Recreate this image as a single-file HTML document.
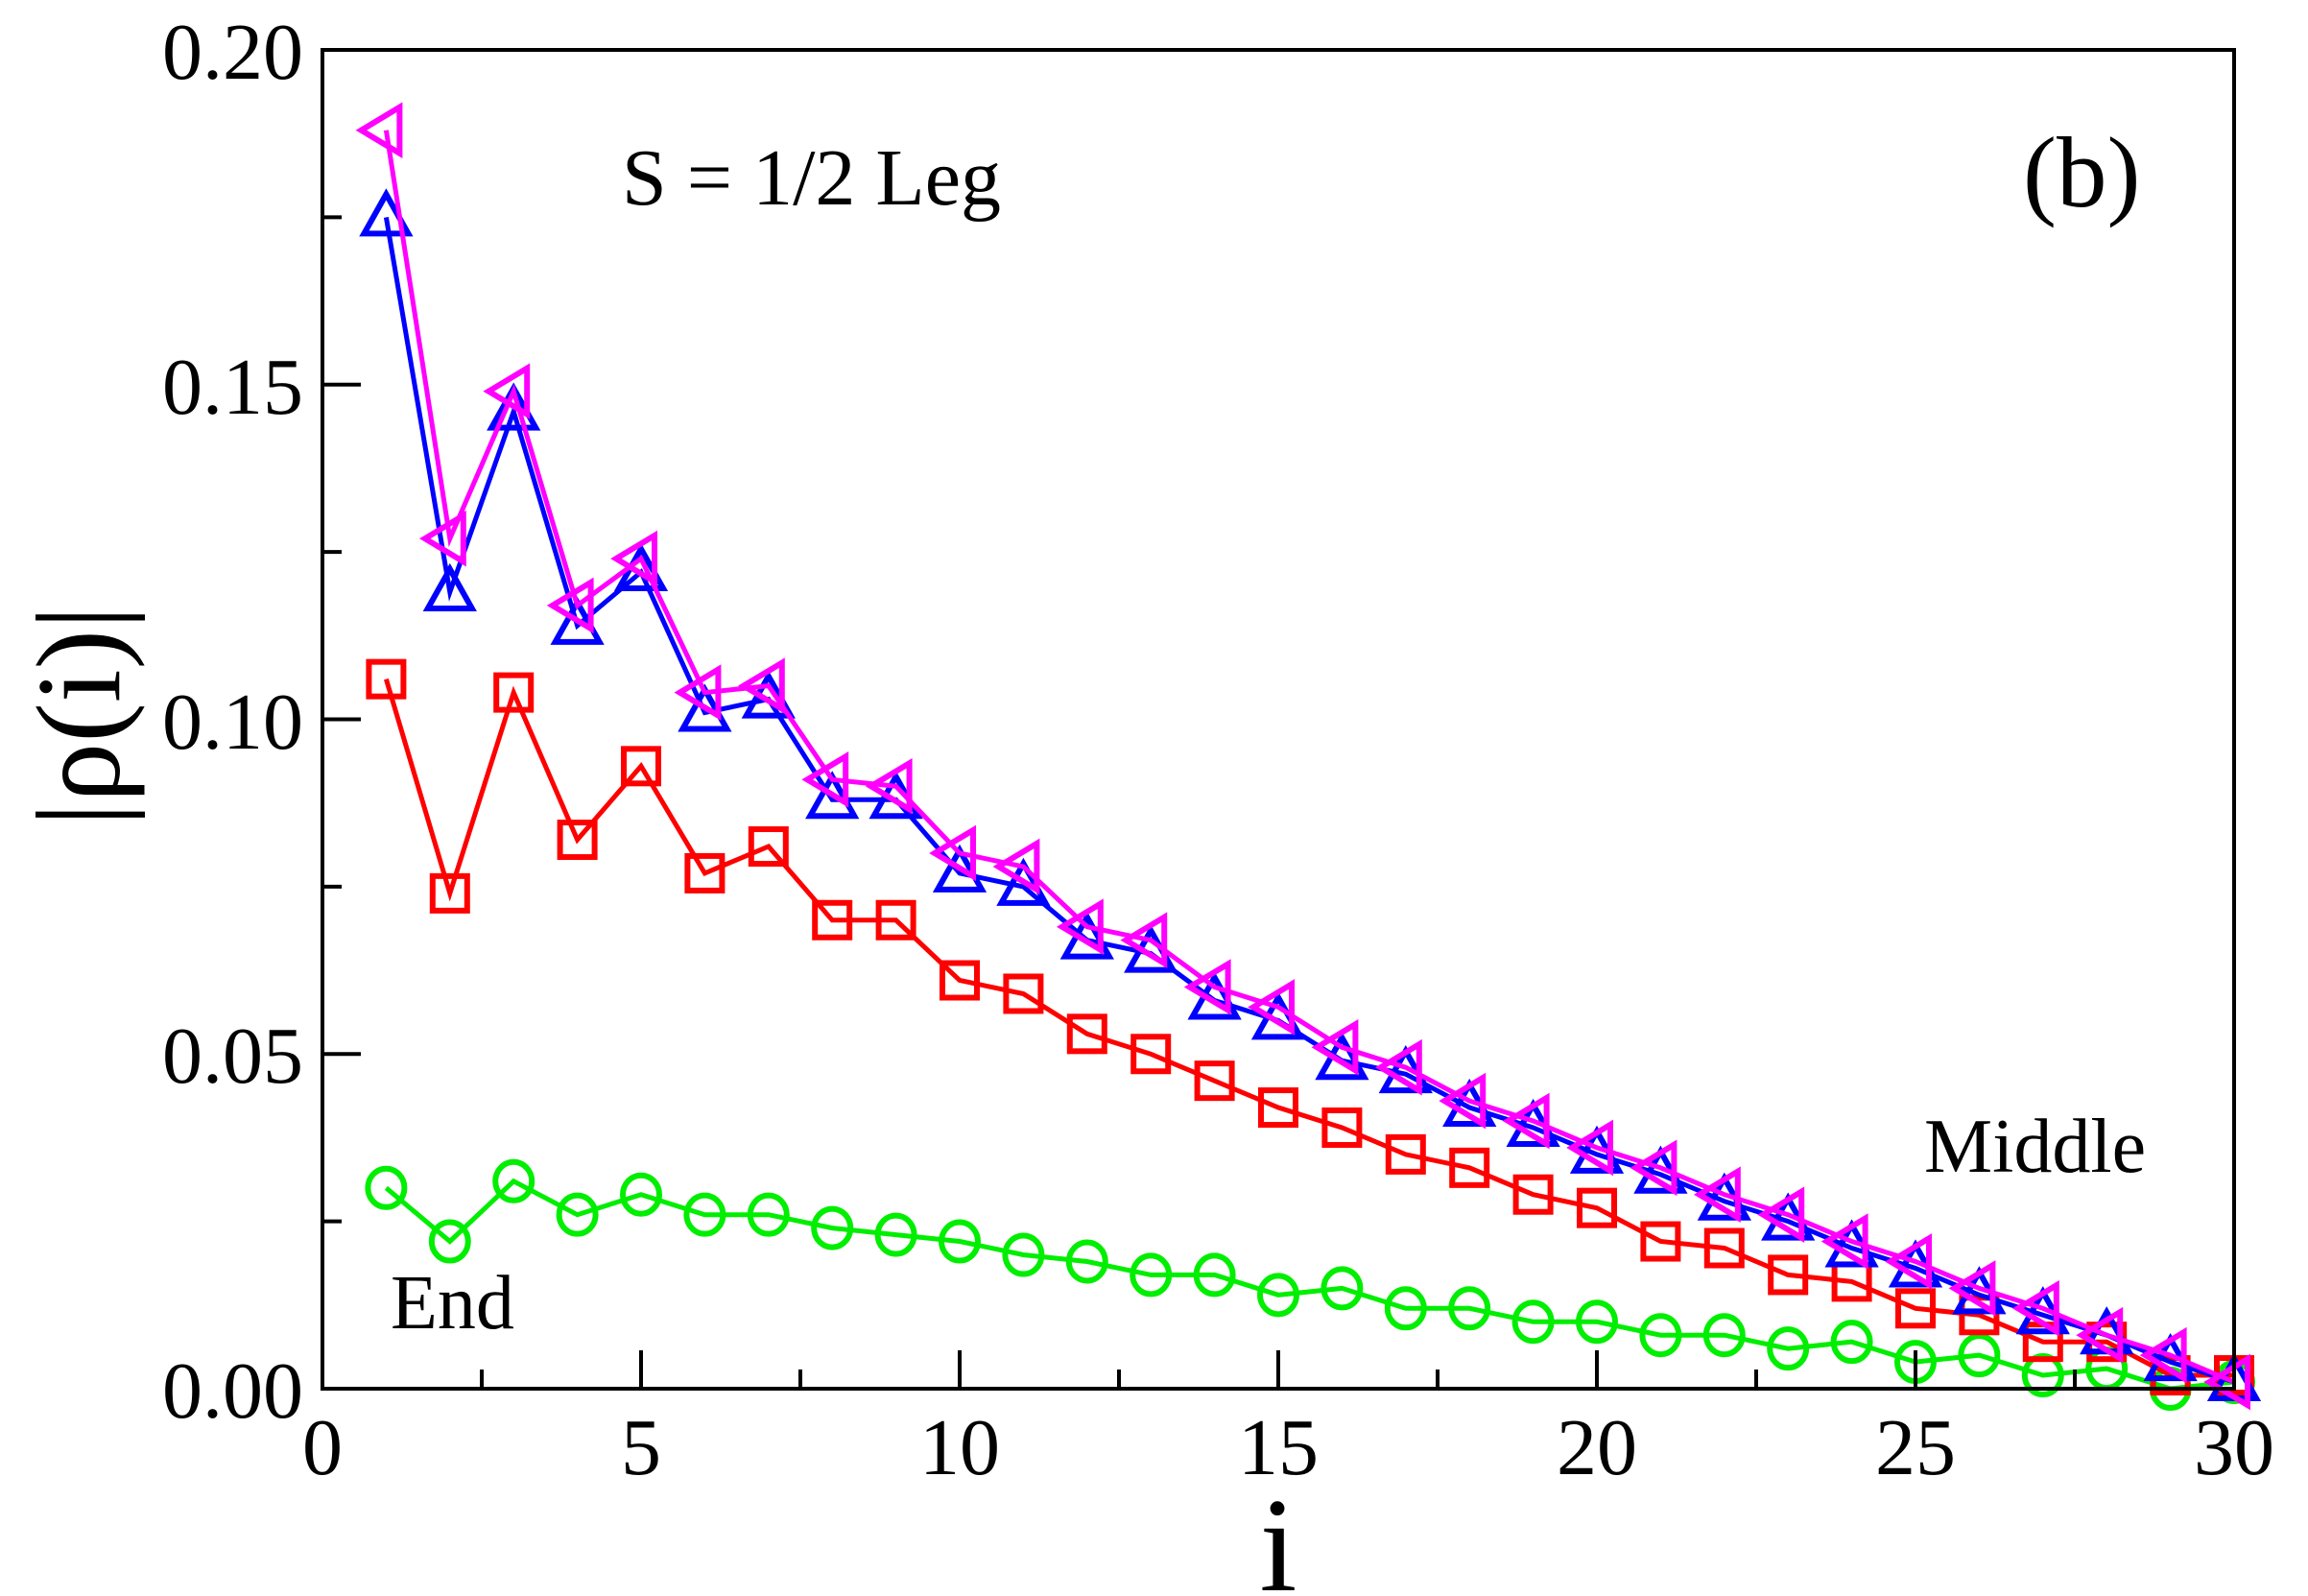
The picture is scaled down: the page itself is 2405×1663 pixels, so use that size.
<!DOCTYPE html>
<html><head><meta charset="utf-8"><style>
html,body{margin:0;padding:0;background:#fff;}
svg{display:block;}
text{font-family:"Liberation Serif","Times New Roman",Times,"DejaVu Serif",serif;fill:#000;}
</style></head><body>
<svg id="s" width="2405" height="1663" xmlns="http://www.w3.org/2000/svg" font-family="Liberation Serif, Times New Roman, Times, serif">
<rect width="2405" height="1663" fill="#fff"/>
<g id="plot"></g>
<rect x="336" y="52" width="1992" height="1395" fill="none" stroke="#000" stroke-width="4"/>
<g id="ticks" stroke="#000" stroke-width="4"></g>
<g font-size="84" text-anchor="end">
<text x="316" y="1477">0.00</text>
<text x="316" y="1128">0.05</text>
<text x="316" y="780">0.10</text>
<text x="316" y="431">0.15</text>
<text x="316" y="82">0.20</text>
</g>
<g font-size="84" text-anchor="middle">
<text x="336" y="1536">0</text>
<text x="668" y="1536">5</text>
<text x="1000" y="1536">10</text>
<text x="1332" y="1536">15</text>
<text x="1664" y="1536">20</text>
<text x="1996" y="1536">25</text>
<text x="2328" y="1536">30</text>
</g>
<text x="1332" y="1657" font-size="140" text-anchor="middle">i</text>
<text transform="translate(124,746) rotate(-90)" font-size="125" text-anchor="middle">|ρ(i)|</text>
<text x="648" y="213" font-size="84">S = 1/2 Leg</text>
<text x="2108" y="215" font-size="105">(b)</text>
<text x="2005" y="1221" font-size="80">Middle</text>
<text x="407" y="1384" font-size="80">End</text>
</svg>
<script>
const X=i=>336+i*66.4, Y=v=>1447-v*6975;
const blue=[0.175,0.119,0.146,0.114,0.122,0.101,0.103,0.088,0.088,0.077,0.075,0.067,0.065,0.058,0.055,0.049,0.047,0.042,0.039,0.035,0.032,0.028,0.025,0.021,0.018,0.014,0.011,0.008,0.004,0.001];
const mag=[0.188,0.127,0.149,0.117,0.124,0.104,0.105,0.091,0.090,0.080,0.078,0.069,0.067,0.060,0.057,0.051,0.048,0.043,0.040,0.036,0.033,0.029,0.026,0.022,0.019,0.015,0.012,0.008,0.005,0.001];
const red=[0.106,0.074,0.104,0.082,0.093,0.077,0.081,0.070,0.070,0.061,0.059,0.053,0.050,0.046,0.042,0.039,0.035,0.033,0.029,0.027,0.022,0.021,0.017,0.016,0.012,0.011,0.007,0.007,0.002,0.002];
const green=[0.030,0.022,0.031,0.026,0.029,0.026,0.026,0.024,0.023,0.022,0.020,0.019,0.017,0.017,0.014,0.015,0.012,0.012,0.010,0.010,0.008,0.008,0.006,0.007,0.004,0.005,0.002,0.003,0.000,0.001];
let h='';
function series(d,col,mk){
  let pts=d.map((v,k)=>X(k+1).toFixed(1)+','+Y(v).toFixed(1)).join(' ');
  h+=`<polyline points="${pts}" fill="none" stroke="${col}" stroke-width="5"/>`;
  d.forEach((v,k)=>{const x=X(k+1),y=Y(v);h+=mk(x,y,col);});
}
series(green,'#00ee00',(x,y,c)=>`<ellipse cx="${x}" cy="${y}" rx="19" ry="20" fill="none" stroke="${c}" stroke-width="6"/>`);
series(red,'#ff0000',(x,y,c)=>`<rect x="${x-18}" y="${y-18}" width="36" height="36" fill="none" stroke="${c}" stroke-width="6"/>`);
series(blue,'#0000ff',(x,y,c)=>`<polygon points="${x},${y-24} ${x+23},${y+17} ${x-23},${y+17}" fill="none" stroke="${c}" stroke-width="6"/>`);
series(mag,'#ff00ff',(x,y,c)=>`<polygon points="${x-26},${y} ${x+14},${y-24} ${x+14},${y+24}" fill="none" stroke="${c}" stroke-width="6"/>`);
document.getElementById('plot').innerHTML=h;
let t='';
for(let k=1;k<8;k++){const y=Y(k*0.025);const L=k%2==0?40:20;t+=`<line x1="336" y1="${y}" x2="${336+L}" y2="${y}"/>`;}
for(let k=1;k<12;k++){const x=X(k*2.5);const L=k%2==0?40:20;t+=`<line x1="${x}" y1="1447" x2="${x}" y2="${1447-L}"/>`;}
document.getElementById('ticks').innerHTML=t;
</script>
</body></html>
